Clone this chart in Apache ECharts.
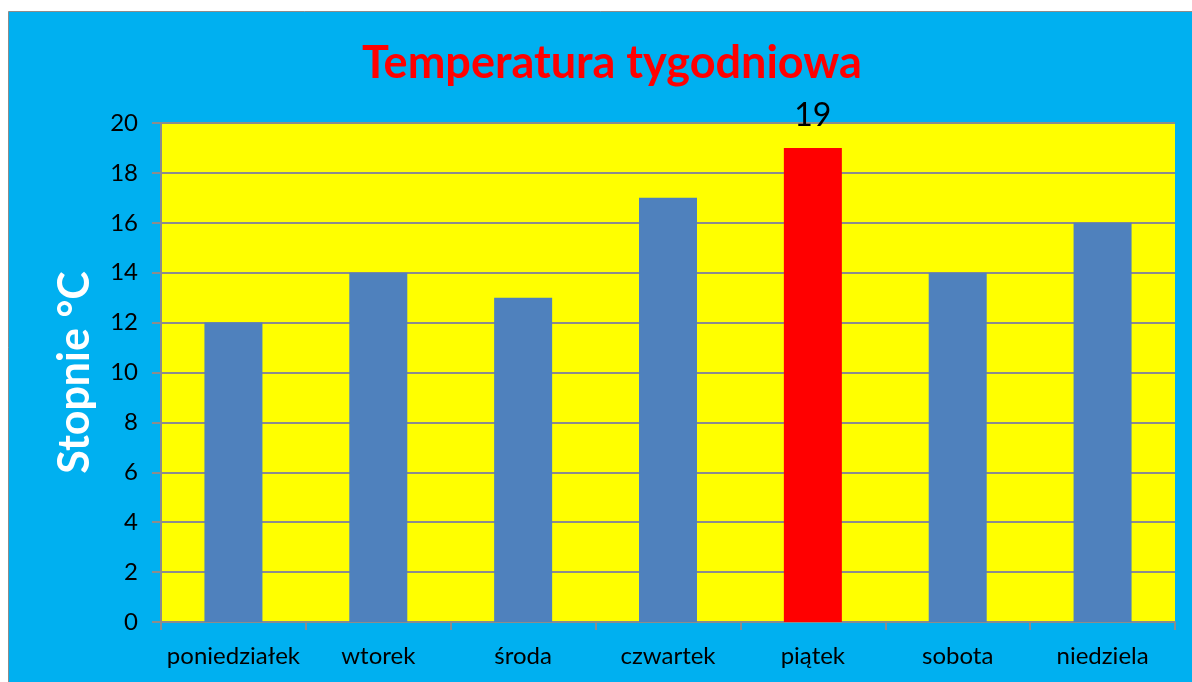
<!DOCTYPE html>
<html lang="pl">
    <head>
        <meta charset="UTF-8">
        <title>Temperatura tygodniowa</title>
        <script src="https://cdn.jsdelivr.net/npm/echarts@6/dist/echarts.min.js"></script>
        <style>
            html, body { margin: 0; padding: 0; background: #ffffff; }
            #id_chart { width: 1192px; height: 682px; }
        </style>
    </head>
    <body>
        <div id="id_chart"></div>
        <script>
            // dni tygodnia i temperatury
            var days = ['poniedziałek', 'wtorek', 'środa', 'czwartek', 'piątek', 'sobota', 'niedziela'];
            var temps = [12, 14, 13, 17, 19, 14, 16];
            var highlightDay = 'piątek';

            var barData = [];
            for (var i = 0; i < days.length; i++) {
                if (days[i] === highlightDay) {
                    barData.push({
                        value: temps[i],
                        itemStyle: { color: '#FF0000' },
                        label: { show: true, position: 'top', distance: 16, fontSize: 32, color: '#000000' }
                    });
                } else {
                    barData.push(temps[i]);
                }
            }

            var myChart = echarts.init(document.getElementById('id_chart'));
            var option = {
                backgroundColor: '#ffffff',
                textStyle: { fontFamily: 'Lato' },
                graphic: [{
                    type: 'rect',
                    z: -10,
                    shape: { x: 8.5, y: 11.5, width: 1200, height: 700 },
                    style: { fill: '#00B0F0', stroke: '#8c8c8c', lineWidth: 1 }
                }],
                title: {
                    text: 'Temperatura tygodniowa',
                    left: 607,
                    top: 36,
                    textAlign: 'center',
                    textStyle: { color: '#FF0000', fontSize: 45, fontWeight: 'bold', fontFamily: 'Lato' }
                },
                grid: {
                    left: 161,
                    top: 123,
                    right: 17,
                    bottom: 60,
                    show: true,
                    backgroundColor: '#FFFF00',
                    borderWidth: 0
                },
                xAxis: {
                    type: 'category',
                    data: days,
                    axisLine: { lineStyle: { color: '#8c8c8c', width: 2 } },
                    axisTick: { show: true, length: 8, lineStyle: { color: '#8c8c8c', width: 2 } },
                    axisLabel: { color: '#000000', fontSize: 24, margin: 22, interval: 0 }
                },
                yAxis: {
                    type: 'value',
                    min: 0,
                    max: 20,
                    interval: 2,
                    name: 'Stopnie °C',
                    nameLocation: 'middle',
                    nameGap: 64,
                    nameTextStyle: { color: '#ffffff', fontSize: 43, fontWeight: 'bold' },
                    axisLine: { show: true, lineStyle: { color: '#8c8c8c', width: 2 } },
                    axisTick: { show: true, length: 9, lineStyle: { color: '#8c8c8c', width: 2 } },
                    axisLabel: { color: '#000000', fontSize: 24, margin: 23 },
                    splitLine: { lineStyle: { color: '#8c8c8c', width: 2 } }
                },
                series: [{
                    type: 'bar',
                    data: barData,
                    barWidth: 58,
                    itemStyle: { color: '#4F81BD' }
                }]
            };
            myChart.setOption(option);
        </script>
    </body>
</html>
